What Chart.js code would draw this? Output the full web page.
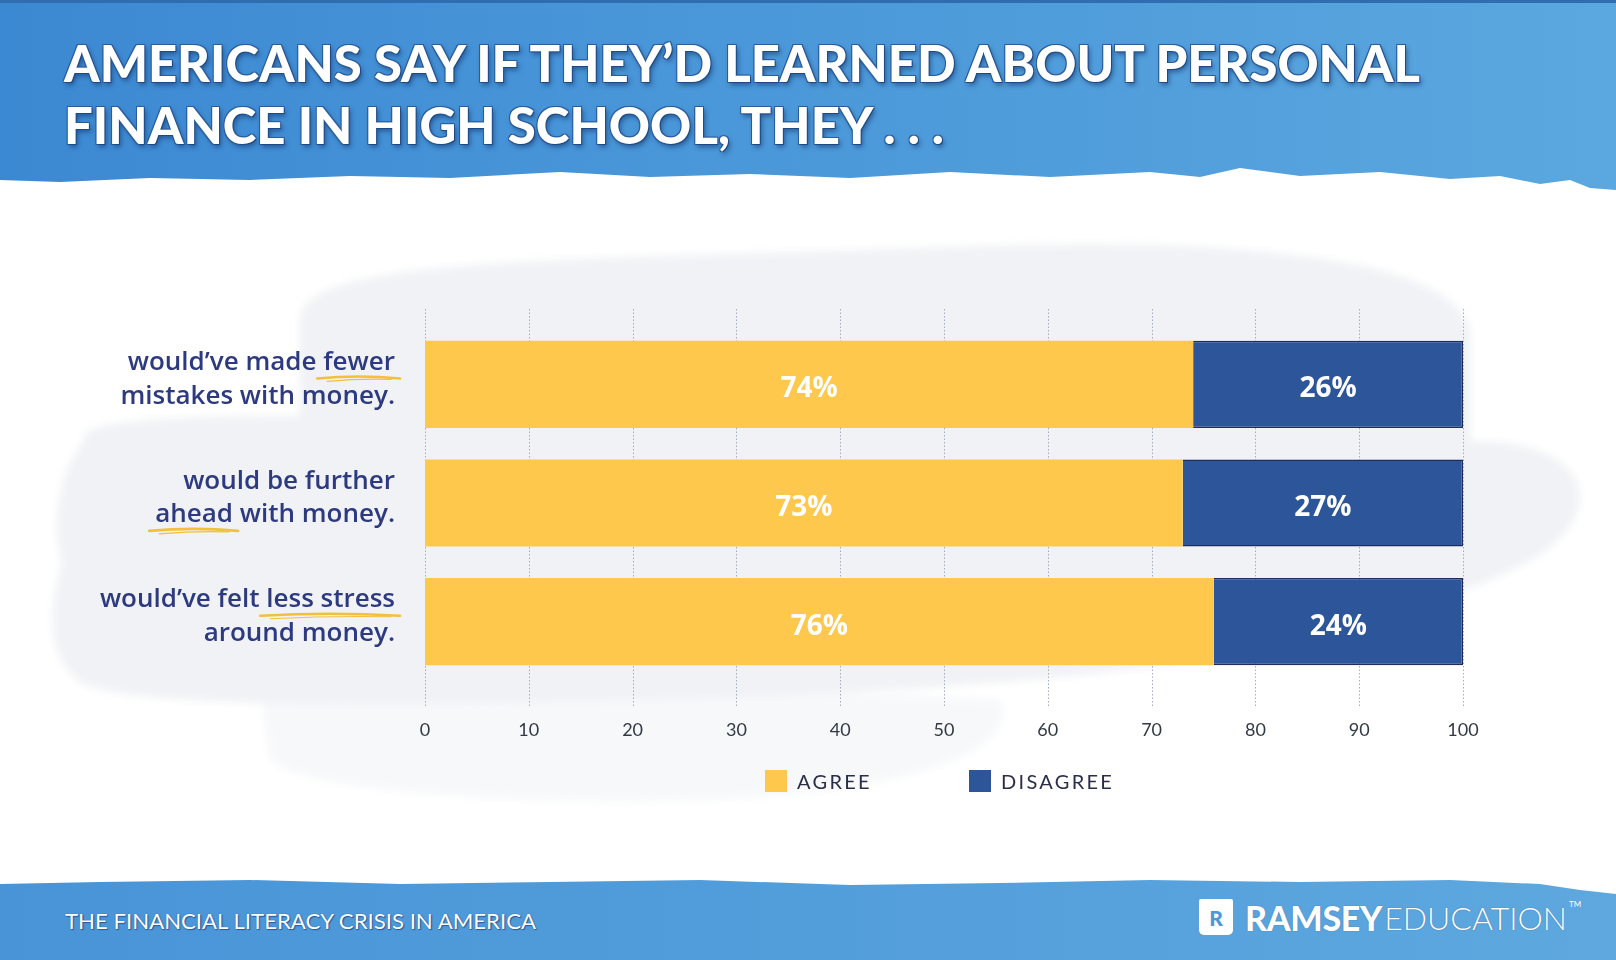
<!DOCTYPE html>
<html>
<head>
<meta charset="utf-8">
<script src="https://cdn.jsdelivr.net/npm/chart.js@4.4.1/dist/chart.umd.min.js"></script>
<style>
  html, body { margin: 0; padding: 0; }
  body { width: 1616px; height: 960px; position: relative; overflow: hidden; background: #fff; font-family: Lato, sans-serif; }
  #header {
    position: absolute; left: 0; top: 0; width: 1616px; height: 195px;
    background: linear-gradient(90deg, #3c89d3 0%, #4a97d9 45%, #5ba7df 100%);
    border-top: 3px solid #2f6cb0; box-sizing: border-box;
    clip-path: polygon(0 0, 1616px 0, 1616px 190px, 1590px 188px, 1570px 180px, 1540px 184px, 1500px 176px, 1450px 179px, 1380px 172px, 1300px 176px, 1240px 168px, 1200px 177px, 1150px 172px, 1050px 177px, 950px 172px, 850px 178px, 750px 174px, 650px 177px, 560px 172px, 450px 178px, 350px 176px, 250px 180px, 150px 178px, 60px 182px, 0 180px);
  }
  .title {
    position: absolute; left: 64px; color: #fff; white-space: nowrap;
    font-family: Lato, sans-serif; font-weight: 900; font-size: 51px; line-height: 1;
    transform-origin: 0 0;
    text-shadow: 1px 1px 0 #1d4a86, -1px -1px 0 #2a5d9c, 1px -1px 0 #2a5d9c, -1px 1px 0 #2a5d9c, 2px 3px 5px rgba(12, 40, 90, 0.55);
  }
  #footer {
    position: absolute; left: 0; top: 874px; width: 1616px; height: 86px;
    background: linear-gradient(90deg, #4894d7 0%, #529edb 50%, #5ea8df 100%);
    clip-path: polygon(0 10px, 100px 8px, 250px 6px, 400px 10px, 550px 8px, 700px 6px, 850px 11px, 1000px 9px, 1150px 6px, 1300px 8px, 1450px 6px, 1540px 10px, 1580px 16px, 1616px 20px, 1616px 86px, 0 86px);
  }
  #footnote {
    position: absolute; left: 65px; top: 910px; color: #fff; white-space: nowrap;
    font-family: Lato, sans-serif; font-weight: 400; font-size: 21px; line-height: 1; transform-origin: 0 0;
    text-shadow: 0 0 1px #1f4f8f, 1px 1px 1px #2a5a98;
  }
  #logo { position: absolute; left: 1199px; top: 899px; height: 36px; display: flex; align-items: center; color: #fff; white-space: nowrap; }
  #logo .icon { width: 34px; height: 36px; background: #fff; border-radius: 2px 2px 5px 5px; color: #4c99da; font: 900 21px Lato, sans-serif; display: flex; align-items: center; justify-content: center; margin-right: 12px; }
  #logo .b { font: 900 34px Lato, sans-serif; letter-spacing: -0.3px; text-shadow: 0 0 1px #2a5a98; }
  #logo .l { font: 300 32px Lato, sans-serif; margin-left: 2px; text-shadow: 0 0 1px #2a5a98; }
  #logo sup { font: 400 8px Lato, sans-serif; margin-left: 2px; align-self: flex-start; }
  #wash { position: absolute; left: 0; top: 0; }
  #chart-wrap { position: absolute; left: 0; top: 290px; width: 1616px; height: 460px; }
  #legend { position: absolute; left: 765px; top: 769px; display: flex; }
  .leg-item { display: flex; align-items: center; font: 400 20px Lato, sans-serif; letter-spacing: 2.3px; color: #2a2e48; }
  .leg-item .sw { width: 22px; height: 22px; margin-right: 10px; }
</style>
</head>
<body>
<svg id="wash" width="1616" height="960">
  <defs><filter id="soft"><feGaussianBlur stdDeviation="4"/></filter></defs>
  <g fill="#f0f2f5" filter="url(#soft)">
    <path d="M300 320 C300 275 430 262 700 255 C1000 246 1150 236 1300 256 C1400 268 1460 292 1470 330 L1470 445 L300 445 Z"/>
    <path d="M85 440 C70 420 200 412 400 418 L1500 442 C1565 450 1595 482 1572 522 C1552 560 1480 592 1300 640 C1100 690 700 702 400 704 C250 704 120 702 80 682 C42 652 52 602 62 562 C50 522 60 470 85 440 Z"/>
    <path d="M260 690 C400 680 800 690 1000 700 C1020 740 950 790 700 800 C500 805 300 790 270 760 Z" opacity="0.55"/>
  </g>
</svg>

<div id="header">
  <div class="title" id="t1" style="top:34px">AMERICANS SAY IF THEY’D LEARNED ABOUT PERSONAL</div>
  <div class="title" id="t2" style="top:96px">FINANCE IN HIGH SCHOOL, THEY . . .</div>
</div>

<div id="chart-wrap"><canvas id="chart" width="1616" height="460"></canvas></div>
<div id="legend"></div>

<div id="footer"></div>
<div id="footnote">THE FINANCIAL LITERACY CRISIS IN AMERICA</div>
<div id="logo"><div class="icon">R</div><span class="b">RAMSEY</span><span class="l">EDUCATION</span><sup>TM</sup></div>

<script>
// Chart data
const categories = [
    ['would’ve made fewer', 'mistakes with money.'],
    ['would be further', 'ahead with money.'],
    ['would’ve felt less stress', 'around money.']
];
const seriesNames = ['AGREE', 'DISAGREE'];
const agreeValues = [74, 73, 76];
const disagreeValues = [26, 27, 24];
const xMin = 0;
const xMax = 100;
const xStep = 10;

// words marked with a yellow pen stroke: [category, line, words]
const highlights = [
    [0, 0, 'fewer'],
    [1, 1, 'ahead'],
    [2, 0, 'less stress']
];

const labelFont = { family: 'Open Sans', size: 26, weight: '600', lineHeight: 1.3 };
const labelPadding = 30;
const labelShift = -5;

// fit a line of text to a given width
function fitWidth(id, target) {
    const el = document.getElementById(id);
    const w = el.getBoundingClientRect().width;
    el.style.transform = 'scaleX(' + (target / w) + ')';
}

// dotted vertical grid, a bit taller than the bars
const dottedGrid = {
    id: 'dottedGrid',
    beforeDatasetsDraw(chart) {
        const { ctx, chartArea, scales } = chart;
        ctx.save();
        ctx.strokeStyle = 'rgba(150, 160, 175, 0.85)';
        ctx.lineWidth = 1;
        ctx.setLineDash([1.5, 2]);
        scales.x.ticks.forEach(t => {
            const px = Math.round(scales.x.getPixelForValue(t.value)) + 0.5;
            ctx.beginPath();
            ctx.moveTo(px, chartArea.top - 16);
            ctx.lineTo(px, chartArea.bottom + 26);
            ctx.stroke();
        });
        ctx.restore();
    }
};

// percentage inside each segment
const valueLabels = {
    id: 'valueLabels',
    afterDatasetsDraw(chart) {
        const ctx = chart.ctx;
        ctx.save();
        ctx.font = '700 28px "Open Sans"';
        ctx.fillStyle = '#ffffff';
        ctx.textAlign = 'center';
        ctx.textBaseline = 'middle';
        chart.data.datasets.forEach((ds, i) => {
            chart.getDatasetMeta(i).data.forEach((bar, j) => {
                ctx.fillText(ds.data[j] + '%', (bar.x + bar.base) / 2, bar.y + 5);
            });
        });
        ctx.restore();
    }
};

// yellow underline under the key words
const penStrokes = {
    id: 'penStrokes',
    afterDraw(chart) {
        const { ctx, scales } = chart;
        const y = scales.y;
        const lh = labelFont.size * labelFont.lineHeight;
        const right = y.right - labelPadding;
        ctx.save();
        ctx.font = labelFont.weight + ' ' + labelFont.size + 'px "' + labelFont.family + '"';
        ctx.strokeStyle = '#f4bf3c';
        ctx.lineCap = 'round';
        highlights.forEach(([row, line, words]) => {
            const lines = categories[row];
            const text = lines[line];
            const lineY = y.getPixelForTick(row) + labelShift + (line - (lines.length - 1) / 2) * lh;
            const start = right - ctx.measureText(text).width + ctx.measureText(text.slice(0, text.indexOf(words))).width;
            const end = start + ctx.measureText(words).width;
            const uy = lineY + 15;
            ctx.lineWidth = 2.6;
            ctx.beginPath();
            ctx.moveTo(start - 6, uy + 1);
            ctx.quadraticCurveTo((start + end) / 2, uy - 3, end + 5, uy + 1);
            ctx.stroke();
            ctx.lineWidth = 1.2;
            ctx.beginPath();
            ctx.moveTo(start + 4, uy + 4);
            ctx.quadraticCurveTo((start + end) / 2, uy + 1, end - 4, uy + 2);
            ctx.stroke();
        });
        ctx.restore();
    }
};

document.fonts.ready.then(() => {
    fitWidth('t1', 1356);
    fitWidth('t2', 880);
    fitWidth('footnote', 471);

    const ctx = document.getElementById('chart').getContext('2d');
    const chart = new Chart(ctx, {
        type: 'bar',
        data: {
            labels: categories,
            datasets: [{
                label: seriesNames[0],
                data: agreeValues,
                backgroundColor: '#fdc84b',
                borderWidth: 0
            }, {
                label: seriesNames[1],
                data: disagreeValues,
                backgroundColor: '#2c559a',
                borderColor: '#1e2c60',
                borderWidth: 1.5
            }]
        },
        options: {
            indexAxis: 'y',
            responsive: false,
            animation: false,
            layout: { padding: { top: 35, right: 153, left: 0, bottom: 0 } },
            datasets: { bar: { barPercentage: 0.735, categoryPercentage: 1 } },
            scales: {
                x: {
                    stacked: true,
                    min: xMin,
                    max: xMax,
                    ticks: { stepSize: xStep, padding: 38, color: '#333a44', font: { family: 'Lato', size: 18 } },
                    grid: { display: false, drawTicks: false },
                    border: { display: false },
                    afterFit: s => { s.height = 69; s.paddingLeft = 0; s.paddingRight = 0; }
                },
                y: {
                    stacked: true,
                    ticks: { padding: labelPadding, labelOffset: labelShift, color: '#2d3a80', font: labelFont },
                    grid: { display: false, drawTicks: false },
                    border: { display: false },
                    afterFit: s => { s.width = 425; s.paddingTop = 0; s.paddingBottom = 0; }
                }
            },
            plugins: {
                legend: { display: false },
                tooltip: { enabled: false }
            }
        },
        plugins: [dottedGrid, valueLabels, penStrokes]
    });

    // Legend from the chart's own legend items
    const legend = document.getElementById('legend');
    Chart.defaults.plugins.legend.labels.generateLabels(chart).forEach((item, i) => {
        const div = document.createElement('div');
        div.className = 'leg-item';
        if (i === 0) div.style.width = '204px';
        div.innerHTML = '<span class="sw" style="background:' + item.fillStyle + '"></span>' + item.text;
        legend.appendChild(div);
    });
});
</script>
</body>
</html>
